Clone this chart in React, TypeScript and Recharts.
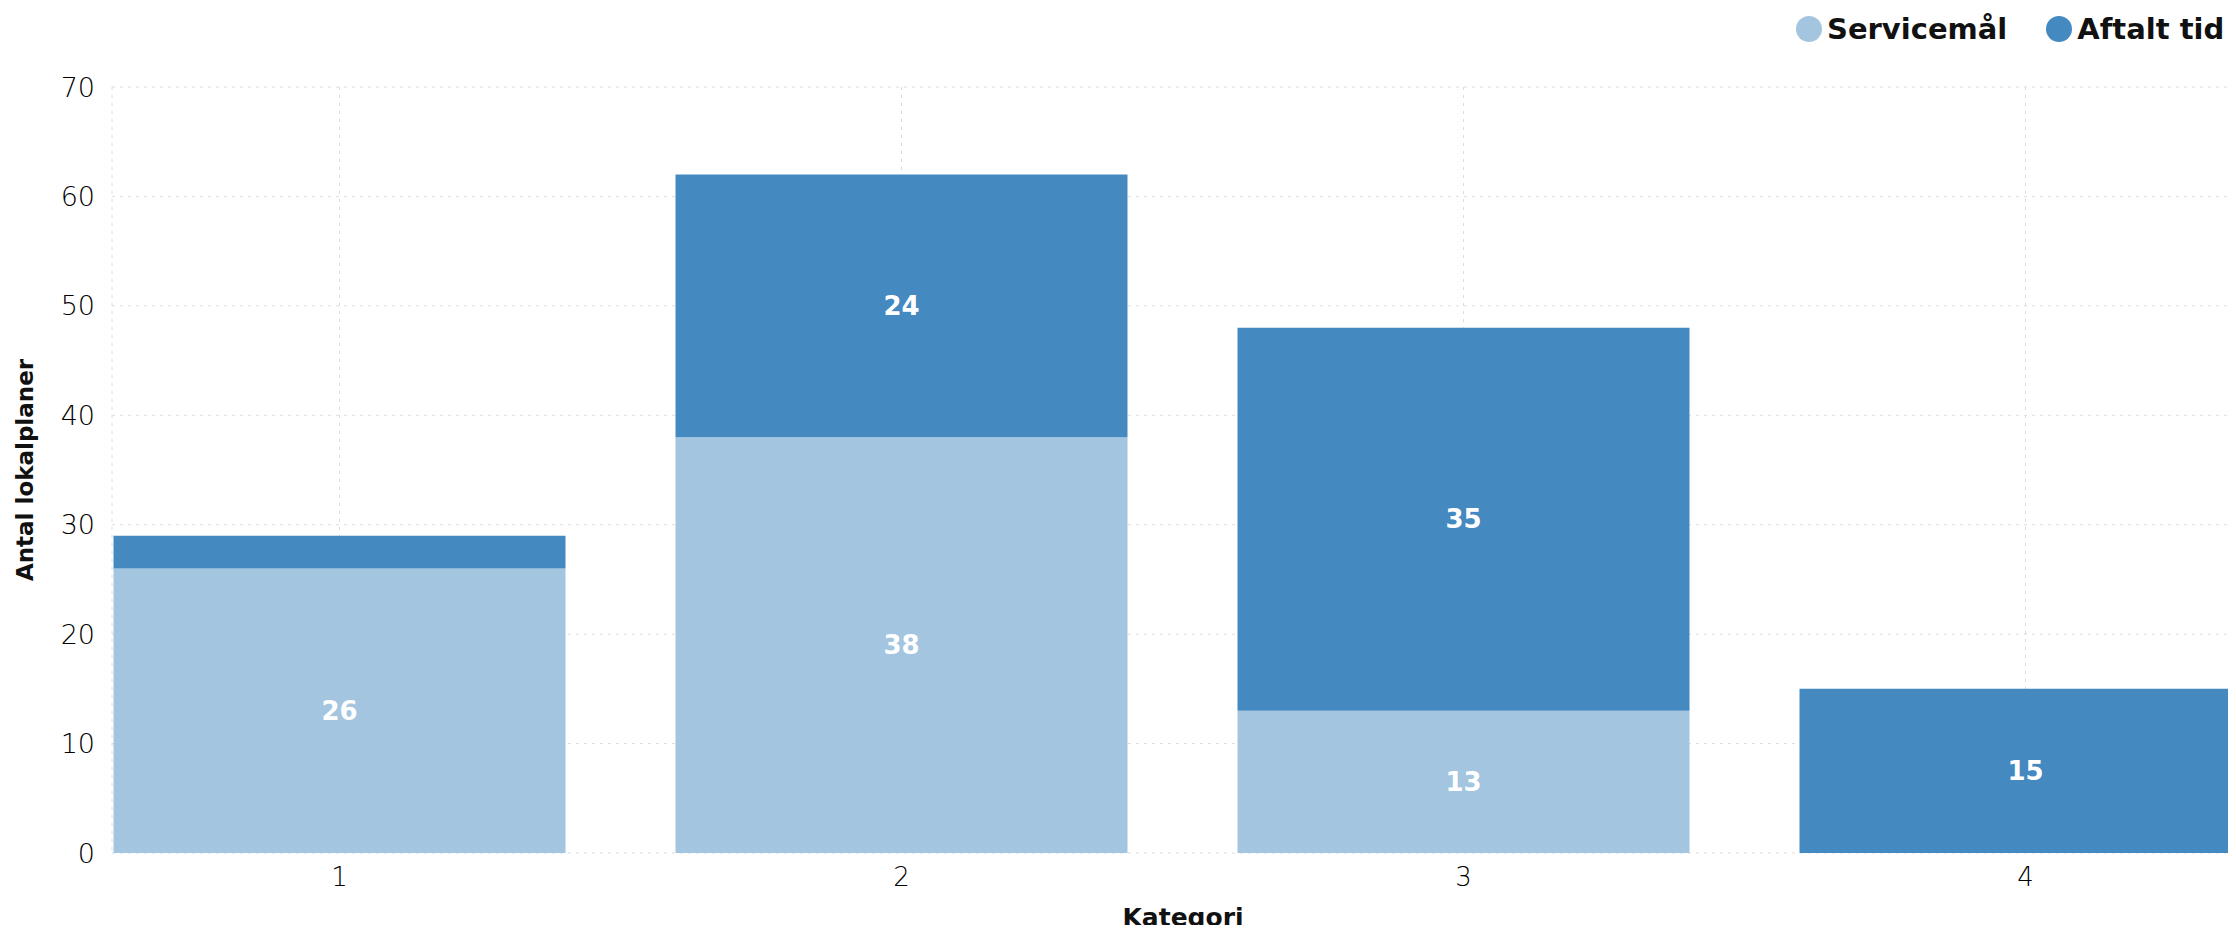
import { BarChart, Bar, XAxis, YAxis, CartesianGrid, Legend, LabelList } from 'recharts'

const categories = ['1', '2', '3', '4']
const servicemaal = [26, 38, 13, 0]
const aftaltTid = [3, 24, 35, 15]
const yTicks = [0, 10, 20, 30, 40, 50, 60, 70]

const LIGHT = '#a3c5e0'
const DARK = '#4589c1'
const FONT = '"DejaVu Sans", sans-serif'

const data = categories.map((name, i) => ({
  name,
  servicemaal: servicemaal[i],
  aftaltTid: aftaltTid[i],
}))

// white value in the middle of a segment, skipped when the segment is too thin
const SegmentLabel = (props: any) => {
  const { x, y, width, height, value } = props
  if (!value || value < 5) return null
  return (
    <text
      x={x + width / 2}
      y={y + height / 2}
      fill="#fff"
      fontSize={26}
      fontFamily={FONT}
      fontWeight={700}
      textAnchor="middle"
      dominantBaseline="central"
    >
      {value}
    </text>
  )
}

const legendItems = [
  { label: 'Servicemål', color: LIGHT },
  { label: 'Aftalt tid', color: DARK },
]

const LegendContent = () => (
  <div
    style={{
      display: 'flex',
      alignItems: 'center',
      fontFamily: FONT,
      whiteSpace: 'nowrap',
    }}
  >
    {legendItems.map((item) => (
      <div
        key={item.label}
        style={{ display: 'flex', alignItems: 'center', marginRight: 39 }}
      >
        <span
          style={{
            width: 26,
            height: 26,
            borderRadius: '50%',
            background: item.color,
            marginRight: 5,
            flexShrink: 0,
          }}
        />
        <span style={{ fontSize: 29, fontWeight: 700, color: '#111' }}>
          {item.label}
        </span>
      </div>
    ))}
  </div>
)

const App = () => {
  return (
    <div
      style={{
        margin: -8,
        width: 2236,
        height: 933,
        overflow: 'hidden',
        background: '#fff',
      }}
    >
      <BarChart
        width={2254}
        height={933}
        data={data}
        margin={{ top: 87, right: 0, bottom: 0, left: 0 }}
        barCategoryGap={55}
      >
        <CartesianGrid stroke="#dcdcdc" strokeDasharray="3 5" />
        <XAxis
          dataKey="name"
          height={80}
          padding={{ left: -53.5, right: -52.5 }}
          tickLine={false}
          axisLine={false}
          tickSize={0}
          tickMargin={15}
          tick={{ fill: '#000', fontSize: 26, fontFamily: FONT, fontWeight: 300 }}
          label={{
            value: 'Kategori',
            position: 'insideBottom',
            offset: 7,
            fill: '#111',
            fontSize: 25,
            fontWeight: 700,
            fontFamily: FONT,
          }}
        />
        <YAxis
          width={112}
          domain={[0, 70]}
          ticks={yTicks}
          tickLine={false}
          axisLine={false}
          tickSize={0}
          tickMargin={17}
          tick={{ fill: '#000', fontSize: 27, fontFamily: FONT, fontWeight: 300 }}
          label={{
            value: 'Antal lokalplaner',
            angle: -90,
            position: 'insideLeft',
            offset: 25,
            fill: '#111',
            fontSize: 23,
            fontWeight: 700,
            fontFamily: FONT,
            style: { textAnchor: 'middle' },
          }}
        />
        <Legend
          verticalAlign="middle"
          align="center"
          content={LegendContent}
          wrapperStyle={{ top: 12, left: 1796, width: 'auto', height: 'auto' }}
        />
        <Bar dataKey="servicemaal" stackId="a" fill={LIGHT} isAnimationActive={false}>
          <LabelList dataKey="servicemaal" content={SegmentLabel} />
        </Bar>
        <Bar dataKey="aftaltTid" stackId="a" fill={DARK} isAnimationActive={false}>
          <LabelList dataKey="aftaltTid" content={SegmentLabel} />
        </Bar>
      </BarChart>
    </div>
  )
}

export default App
